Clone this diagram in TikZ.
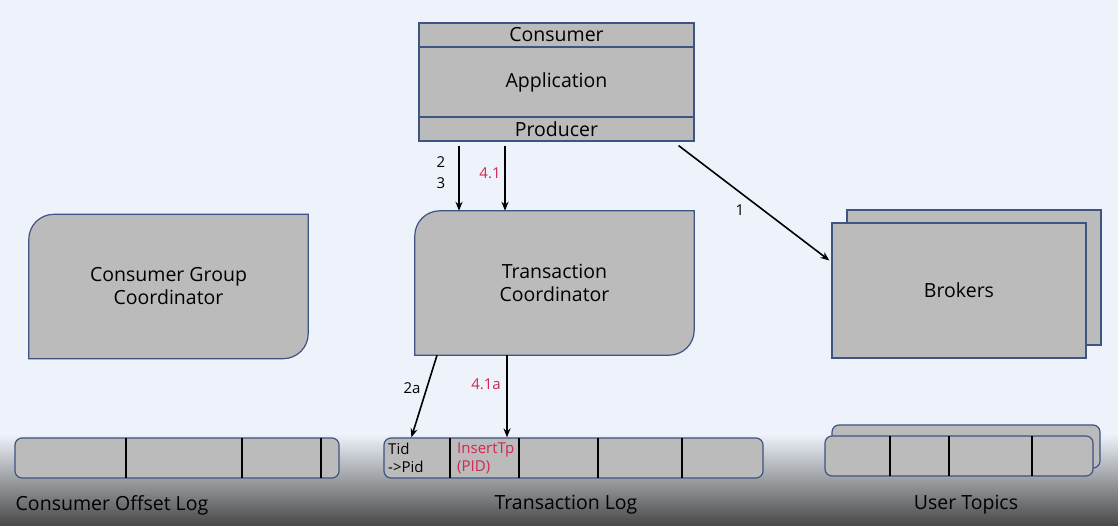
\documentclass[tikz,border=0pt]{standalone}
\usepackage{fontspec}
\setmainfont{Open Sans}
\usetikzlibrary{arrows.meta,positioning,backgrounds}
\definecolor{kafkaBlue}{RGB}{62,84,130}
\definecolor{kafkaGrey}{RGB}{187,187,187}
\definecolor{kafkaRed}{RGB}{208,40,80}
\definecolor{kafkaBack}{RGB}{238,243,251}

\begin{document}
\begin{tikzpicture}[x=1pt,y=1pt,font=\fontsize{19.5}{23}\selectfont,>={Stealth[length=9pt,width=7pt]},
        box/.style={draw=kafkaBlue,line width=1.2pt,fill=kafkaGrey,inner sep=0pt},
        row/.style={box,minimum width=275,minimum height=24},
        crd/.style={inner sep=0pt,minimum width=279,minimum height=144,align=center},
        logbox/.style={box,rounded corners=7pt,minimum height=40},
        cell/.style={font=\fontsize{15}{18}\selectfont,align=left,anchor=west,inner sep=0pt},
        lbl/.style={font=\fontsize{15}{21}\selectfont,align=center},
        div/.style={line width=1.2pt},
        ar/.style={->,line width=1.6pt}]
        \useasboundingbox (0,0) rectangle (1118,526);

        % application
        \node[row] (cons) at (556.5,491) {Consumer};
        \node[row,minimum height=70] (app) at (556.5,444) {Application};
        \node[row] (prod) at (556.5,397) {Producer};

        % coordinators
        \node[crd] (cgc) at (168.5,239.5) {Consumer Group\\Coordinator};
        \node[crd] (tc) at (554.5,243) {Transaction\\Coordinator};
        \begin{scope}[on background layer]
          \fill[kafkaBack] (0,0) rectangle (1118,526);
          \shade[top color=kafkaBack,bottom color=black!72] (0,0) rectangle (1118,92);
          \foreach \n in {cgc,tc}
            \draw[box] ([xshift=25pt]\n.north west) -- (\n.north east) -- ([yshift=25pt]\n.south east)
              arc[start angle=0,end angle=-90,radius=25pt] -- (\n.south west) -- ([yshift=-25pt]\n.north west)
              arc[start angle=180,end angle=90,radius=25pt] -- cycle;
        \end{scope}

        % brokers
        \node[box,minimum width=254,minimum height=135] (brk2) at (974,248.5) {};
        \node[box,minimum width=254,minimum height=135] (brk) at (959,235.5) {Brokers};

        % logs
        \node[logbox,minimum width=324] (olog) at (177,68) {};
        \node[logbox,minimum width=379] (tlog) at (573.5,68) {};
        \node[logbox,minimum width=268,minimum height=43] (ut2) at (966,79.5) {};
        \node[logbox,minimum width=268] (ut) at (959,70) {};
        \foreach \x in {126,242,321} \draw[div] (\x,48) -- (\x,88);
        \foreach \x in {450,519,598,682} \draw[div] (\x,48) -- (\x,88);
        \foreach \x in {890,949,1032} \draw[div] (\x,50) -- (\x,90);
        \node[cell] (tid) at (388,68) {Tid\\->Pid};
        \node[cell,text=kafkaRed] (ins) at (457,68) {InsertTp\\(PID)};

        \node (olbl) at (112,21) {Consumer Offset Log};
        \node (tlbl) at (566,21) {Transaction Log};
        \node (ulbl) at (966,21) {User Topics};

        % arrows
        \coordinate (a23) at (459,0);
        \coordinate (a41) at (505,0);
        \coordinate (a41a) at (507,0);
        \draw[ar,shorten <=4pt] (prod.south -| a23) -- (tc.north -| a23);
        \draw[ar,shorten <=4pt] (prod.south -| a41) -- (tc.north -| a41);
        \draw[ar] ([xshift=-16pt,yshift=-4pt]prod.south east) -- ([xshift=-2pt,yshift=30pt]brk.west);
        \draw[ar] ([xshift=-117.5pt]tc.south) -- ([xshift=28pt]tlog.north west);
        \draw[ar] (tc.south -| a41a) -- (tlog.north -| a41a);
        \node[lbl] (l23) at (441,353.5) {2\\3};
        \node[lbl,text=kafkaRed] (l41) at (490,353) {4.1};
        \node[lbl] (l1) at (740,316) {1};
        \node[lbl] (l2a) at (412,138) {2a};
        \node[lbl,text=kafkaRed] (l41a) at (486,142) {4.1a};
      \end{tikzpicture}
\end{document}
